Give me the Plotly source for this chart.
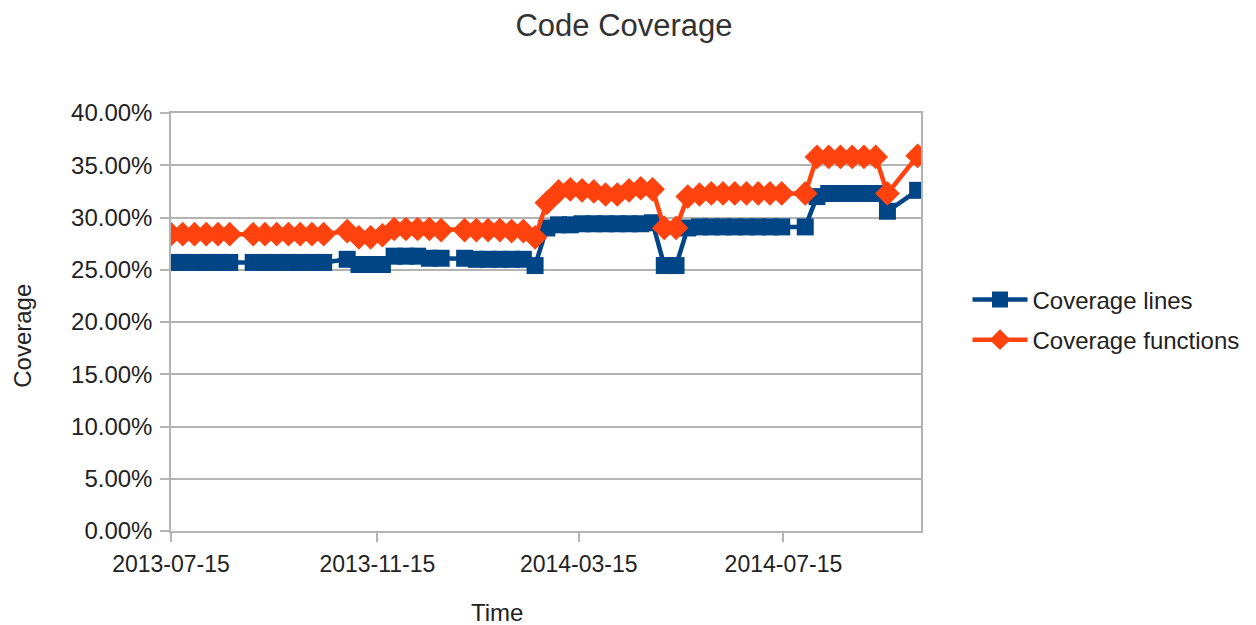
import datetime as dt
import plotly.graph_objects as go

# Day offsets from 2013-07-15 of each measurement
start = dt.date(2013, 7, 15)
day_offsets = [0, 7, 14, 21, 28, 35,
               49, 56, 63, 70, 77, 84, 91,
               105, 112, 119, 126, 133, 140, 147, 154, 161,
               175, 182, 189, 196, 203, 210, 217,
               224, 231, 238, 245, 252, 259, 266, 273, 280, 287,
               294, 301,
               308, 315, 322, 329, 336, 343, 350, 357, 364,
               378, 385, 392, 399, 406, 413, 420, 427, 445]
dates = [(start + dt.timedelta(days=d)).isoformat() for d in day_offsets]

coverage_lines = [25.7, 25.7, 25.7, 25.7, 25.7, 25.7,
                  25.7, 25.7, 25.7, 25.7, 25.7, 25.7, 25.7,
                  26.0, 25.5, 25.5, 25.5, 26.3, 26.3, 26.3, 26.1, 26.1,
                  26.1, 26.0, 26.0, 26.0, 26.0, 26.0, 25.4,
                  29.0, 29.3, 29.3, 29.4, 29.4, 29.4, 29.4, 29.4, 29.4, 29.5,
                  25.4, 25.4,
                  29.0, 29.1, 29.1, 29.1, 29.1, 29.1, 29.1, 29.1, 29.1,
                  29.1, 32.0, 32.3, 32.3, 32.3, 32.3, 32.3, 30.6, 32.6]

coverage_functions = [28.4, 28.4, 28.4, 28.4, 28.4, 28.4,
                      28.4, 28.4, 28.4, 28.4, 28.4, 28.4, 28.4,
                      28.7, 28.1, 28.1, 28.3, 28.9, 28.9, 28.9, 28.9, 28.8,
                      28.8, 28.8, 28.8, 28.8, 28.7, 28.7, 28.1,
                      31.4, 32.5, 32.7, 32.6, 32.5, 32.2, 32.2, 32.6, 32.8, 32.7,
                      29.0, 29.0,
                      32.0, 32.2, 32.3, 32.3, 32.3, 32.3, 32.3, 32.3, 32.3,
                      32.3, 35.8, 35.8, 35.8, 35.8, 35.8, 35.8, 32.3, 35.9]

x_tick_vals = ["2013-07-15", "2013-11-15", "2014-03-15", "2014-07-15"]
x_tick_text = ["2013-07-15", "2013-11-15", "2014-03-15", "2014-07-15"]
y_tick_vals = [0, 0.05, 0.10, 0.15, 0.20, 0.25, 0.30, 0.35, 0.40]

FONT = "Liberation Sans"
BLUE = "#004586"
ORANGE = "#ff420e"
TXT = "#222222"

fig = go.Figure()
fig.add_trace(go.Scatter(
    x=dates, y=[v / 100 for v in coverage_lines], name="Coverage lines",
    mode="lines+markers", legendgroup="a",
    line=dict(color=BLUE, width=4.5),
    marker=dict(symbol="square", size=17, color=BLUE),
))
fig.add_trace(go.Scatter(
    x=dates, y=[v / 100 for v in coverage_functions], name="Coverage functions",
    mode="lines+markers", legendgroup="b",
    line=dict(color=ORANGE, width=4.5),
    marker=dict(symbol="diamond", size=19, color=ORANGE),
))

fig.update_layout(
    width=1248, height=617,
    paper_bgcolor="white", plot_bgcolor="white",
    margin=dict(l=163, r=335, t=105, b=94),
    font=dict(family=FONT, color=TXT),
    title=dict(text="Code Coverage", x=0.4936, xanchor="center",
               y=0.972, yanchor="middle", font=dict(size=31, family=FONT, color="#333333")),
    showlegend=True,
    legend=dict(x=1.062, xanchor="left", y=0.505, yanchor="middle",
                font=dict(size=24, family=FONT, color=TXT),
                itemwidth=55, tracegroupgap=6,
                bgcolor="rgba(0,0,0,0)"),
    annotations=[
        dict(text="Coverage", xref="paper", yref="paper", x=-0.199, y=0.4665,
             showarrow=False, textangle=-90, font=dict(size=24, family=FONT, color=TXT),
             xanchor="center", yanchor="middle"),
        dict(text="Time", xref="paper", yref="paper", x=0.4347, y=-0.196,
             showarrow=False, font=dict(size=24, family=FONT, color=TXT),
             xanchor="center", yanchor="middle"),
    ],
)
fig.update_xaxes(
    type="date", range=["2013-07-15", "2014-10-05"],
    tickmode="array", tickvals=x_tick_vals, ticktext=x_tick_text,
    showgrid=False, showline=True, linecolor="#b3b3b3", linewidth=1.5, mirror=True,
    ticks="outside", ticklen=9, tickcolor="#b3b3b3", tickwidth=1.5,
    tickfont=dict(size=23, family=FONT, color=TXT), ticklabelstandoff=3,
    zeroline=False,
)
fig.update_yaxes(
    range=[0, 0.40], tickmode="array", tickvals=y_tick_vals, tickformat=".2%",
    showgrid=True, gridcolor="#b3b3b3", gridwidth=1.5,
    showline=True, linecolor="#b3b3b3", linewidth=1.5, mirror=True,
    ticks="outside", ticklen=9, tickcolor="#b3b3b3", tickwidth=1.5,
    tickfont=dict(size=24, family=FONT, color=TXT), ticklabelstandoff=3,
    zeroline=False,
)

fig.write_html("out.html")
